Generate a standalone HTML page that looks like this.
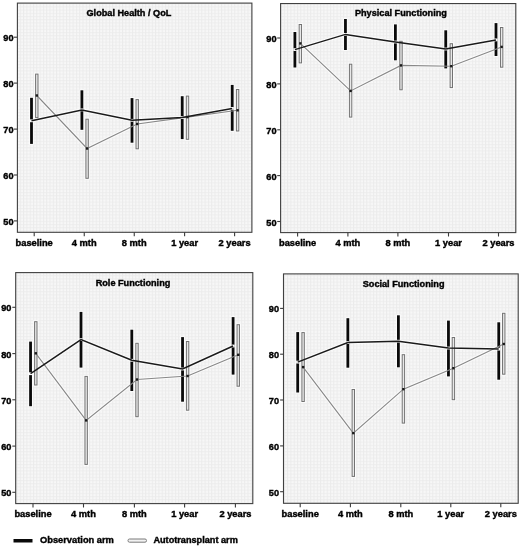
<!DOCTYPE html><html><head><meta charset="utf-8"><style>html,body{margin:0;padding:0;background:#fff;width:520px;height:546px;overflow:hidden}svg{display:block;will-change:transform}text{font-family:"Liberation Sans", sans-serif;font-weight:bold;fill:#000;stroke:#000;stroke-width:0.4px}</style></head><body>
<svg width="520" height="546" viewBox="0 0 520 546">
<defs><pattern id="g" width="3.3" height="3.2" patternUnits="userSpaceOnUse"><rect width="3.3" height="3.2" fill="#f7f7f7"/><path d="M0 0.5H3.3" stroke="#eeeeee" stroke-width="1"/><path d="M0.5 0V3.2" stroke="#ebebeb" stroke-width="1"/></pattern></defs>
<rect x="17.4" y="3.1" width="234.5" height="229.20000000000002" fill="url(#g)"/>
<line x1="13.999999999999998" y1="37.2" x2="17.4" y2="37.2" stroke="#3a3a3a" stroke-width="1.1"/>
<text transform="translate(13.50,41.20) scale(0.96,1)" font-size="9.6" text-anchor="end">90</text>
<line x1="13.999999999999998" y1="83.1" x2="17.4" y2="83.1" stroke="#3a3a3a" stroke-width="1.1"/>
<text transform="translate(13.50,87.12) scale(0.96,1)" font-size="9.6" text-anchor="end">80</text>
<line x1="13.999999999999998" y1="129.1" x2="17.4" y2="129.1" stroke="#3a3a3a" stroke-width="1.1"/>
<text transform="translate(13.50,133.05) scale(0.96,1)" font-size="9.6" text-anchor="end">70</text>
<line x1="13.999999999999998" y1="175.0" x2="17.4" y2="175.0" stroke="#3a3a3a" stroke-width="1.1"/>
<text transform="translate(13.50,178.97) scale(0.96,1)" font-size="9.6" text-anchor="end">60</text>
<line x1="13.999999999999998" y1="220.9" x2="17.4" y2="220.9" stroke="#3a3a3a" stroke-width="1.1"/>
<text transform="translate(13.50,224.90) scale(0.96,1)" font-size="9.6" text-anchor="end">50</text>
<line x1="34.2" y1="232.3" x2="34.2" y2="236.20000000000002" stroke="#3a3a3a" stroke-width="1.1"/>
<text transform="translate(34.2,246.1) scale(1.035,1)" font-size="9.0" text-anchor="middle">baseline</text>
<line x1="84.25" y1="232.3" x2="84.25" y2="236.20000000000002" stroke="#3a3a3a" stroke-width="1.1"/>
<text transform="translate(84.25,246.1) scale(1.035,1)" font-size="9.0" text-anchor="middle">4 mth</text>
<line x1="134.25" y1="232.3" x2="134.25" y2="236.20000000000002" stroke="#3a3a3a" stroke-width="1.1"/>
<text transform="translate(134.25,246.1) scale(1.035,1)" font-size="9.0" text-anchor="middle">8 mth</text>
<line x1="184.6" y1="232.3" x2="184.6" y2="236.20000000000002" stroke="#3a3a3a" stroke-width="1.1"/>
<text transform="translate(184.6,246.1) scale(1.035,1)" font-size="9.0" text-anchor="middle">1 year</text>
<line x1="234.6" y1="232.3" x2="234.6" y2="236.20000000000002" stroke="#3a3a3a" stroke-width="1.1"/>
<text transform="translate(234.6,246.1) scale(1.035,1)" font-size="9.0" text-anchor="middle">2 years</text>
<text x="128.9" y="16.2" font-size="9.15" text-anchor="middle">Global Health / QoL</text>
<polyline points="36.80,95.50 87.10,148.50 137.20,124.00 187.50,117.10 237.60,110.30" fill="none" stroke="#fff" stroke-opacity="0.7" stroke-width="3.2"/>
<polyline points="31.50,120.80 81.90,109.90 132.00,120.30 182.20,117.60 232.20,108.40" fill="none" stroke="#fff" stroke-opacity="0.7" stroke-width="3.6"/>
<rect x="34.20" y="72.70" width="5.20" height="46.30" fill="#fff" opacity="0.8"/>
<rect x="84.50" y="117.80" width="5.20" height="61.90" fill="#fff" opacity="0.8"/>
<rect x="134.60" y="98.20" width="5.20" height="52.00" fill="#fff" opacity="0.8"/>
<rect x="184.90" y="94.70" width="5.20" height="46.00" fill="#fff" opacity="0.8"/>
<rect x="235.00" y="88.10" width="5.20" height="44.30" fill="#fff" opacity="0.8"/>
<rect x="29.20" y="96.90" width="4.60" height="47.90" fill="#fff" opacity="0.8"/>
<rect x="79.60" y="89.40" width="4.60" height="41.30" fill="#fff" opacity="0.8"/>
<rect x="129.70" y="97.20" width="4.60" height="46.40" fill="#fff" opacity="0.8"/>
<rect x="179.90" y="95.30" width="4.60" height="44.70" fill="#fff" opacity="0.8"/>
<rect x="229.90" y="84.00" width="4.60" height="47.70" fill="#fff" opacity="0.8"/>
<rect x="35.60" y="74.10" width="2.40" height="43.50" fill="#e8e8e8" stroke="#727272" stroke-width="1"/>
<rect x="85.90" y="119.20" width="2.40" height="59.10" fill="#e8e8e8" stroke="#727272" stroke-width="1"/>
<rect x="136.00" y="99.60" width="2.40" height="49.20" fill="#e8e8e8" stroke="#727272" stroke-width="1"/>
<rect x="186.30" y="96.10" width="2.40" height="43.20" fill="#e8e8e8" stroke="#727272" stroke-width="1"/>
<rect x="236.40" y="89.50" width="2.40" height="41.50" fill="#e8e8e8" stroke="#727272" stroke-width="1"/>
<rect x="30.10" y="97.80" width="2.8" height="46.10" fill="#0a0a0a"/>
<rect x="80.50" y="90.30" width="2.8" height="39.50" fill="#0a0a0a"/>
<rect x="130.60" y="98.10" width="2.8" height="44.60" fill="#0a0a0a"/>
<rect x="180.80" y="96.20" width="2.8" height="42.90" fill="#0a0a0a"/>
<rect x="230.80" y="84.90" width="2.8" height="45.90" fill="#0a0a0a"/>
<polyline points="36.80,95.50 87.10,148.50 137.20,124.00 187.50,117.10 237.60,110.30" fill="none" stroke="#888" stroke-width="1.1"/>
<rect x="29.90" y="119.40" width="3.2" height="2.8" fill="#fafafa"/>
<rect x="80.30" y="108.50" width="3.2" height="2.8" fill="#fafafa"/>
<rect x="130.40" y="118.90" width="3.2" height="2.8" fill="#fafafa"/>
<rect x="180.60" y="116.20" width="3.2" height="2.8" fill="#fafafa"/>
<rect x="230.60" y="107.00" width="3.2" height="2.8" fill="#fafafa"/>
<polyline points="31.50,120.80 81.90,109.90 132.00,120.30 182.20,117.60 232.20,108.40" fill="none" stroke="#1a1a1a" stroke-width="1.5"/>
<rect x="35.60" y="94.30" width="2.4" height="2.4" fill="#1a1a1a"/>
<rect x="85.90" y="147.30" width="2.4" height="2.4" fill="#1a1a1a"/>
<rect x="136.00" y="122.80" width="2.4" height="2.4" fill="#1a1a1a"/>
<rect x="186.30" y="115.90" width="2.4" height="2.4" fill="#1a1a1a"/>
<rect x="236.40" y="109.10" width="2.4" height="2.4" fill="#1a1a1a"/>
<rect x="17.4" y="3.1" width="234.5" height="229.20000000000002" fill="none" stroke="#404040" stroke-width="1.1"/>
<rect x="280.6" y="3.56" width="235.19999999999993" height="229.04" fill="url(#g)"/>
<line x1="277.20000000000005" y1="38.0" x2="280.6" y2="38.0" stroke="#3a3a3a" stroke-width="1.1"/>
<text transform="translate(276.50,42.00) scale(0.96,1)" font-size="9.6" text-anchor="end">90</text>
<line x1="277.20000000000005" y1="83.9" x2="280.6" y2="83.9" stroke="#3a3a3a" stroke-width="1.1"/>
<text transform="translate(276.50,87.88) scale(0.96,1)" font-size="9.6" text-anchor="end">80</text>
<line x1="277.20000000000005" y1="129.8" x2="280.6" y2="129.8" stroke="#3a3a3a" stroke-width="1.1"/>
<text transform="translate(276.50,133.75) scale(0.96,1)" font-size="9.6" text-anchor="end">70</text>
<line x1="277.20000000000005" y1="175.6" x2="280.6" y2="175.6" stroke="#3a3a3a" stroke-width="1.1"/>
<text transform="translate(276.50,179.62) scale(0.96,1)" font-size="9.6" text-anchor="end">60</text>
<line x1="277.20000000000005" y1="221.5" x2="280.6" y2="221.5" stroke="#3a3a3a" stroke-width="1.1"/>
<text transform="translate(276.50,225.50) scale(0.96,1)" font-size="9.6" text-anchor="end">50</text>
<line x1="297.6" y1="232.6" x2="297.6" y2="236.5" stroke="#3a3a3a" stroke-width="1.1"/>
<text transform="translate(297.6,246.4) scale(1.035,1)" font-size="9.0" text-anchor="middle">baseline</text>
<line x1="347.9" y1="232.6" x2="347.9" y2="236.5" stroke="#3a3a3a" stroke-width="1.1"/>
<text transform="translate(347.9,246.4) scale(1.035,1)" font-size="9.0" text-anchor="middle">4 mth</text>
<line x1="397.9" y1="232.6" x2="397.9" y2="236.5" stroke="#3a3a3a" stroke-width="1.1"/>
<text transform="translate(397.9,246.4) scale(1.035,1)" font-size="9.0" text-anchor="middle">8 mth</text>
<line x1="448.5" y1="232.6" x2="448.5" y2="236.5" stroke="#3a3a3a" stroke-width="1.1"/>
<text transform="translate(448.5,246.4) scale(1.035,1)" font-size="9.0" text-anchor="middle">1 year</text>
<line x1="498.5" y1="232.6" x2="498.5" y2="236.5" stroke="#3a3a3a" stroke-width="1.1"/>
<text transform="translate(498.5,246.4) scale(1.035,1)" font-size="9.0" text-anchor="middle">2 years</text>
<text x="400.9" y="16.0" font-size="9.15" text-anchor="middle">Physical Functioning</text>
<polyline points="300.35,43.40 350.60,90.90 401.00,65.40 451.30,66.20 501.65,46.90" fill="none" stroke="#fff" stroke-opacity="0.7" stroke-width="3.2"/>
<polyline points="294.90,49.60 345.45,34.40 395.40,42.00 445.75,49.00 496.00,39.90" fill="none" stroke="#fff" stroke-opacity="0.7" stroke-width="3.6"/>
<rect x="297.75" y="23.10" width="5.20" height="41.20" fill="#fff" opacity="0.8"/>
<rect x="348.00" y="62.80" width="5.20" height="55.70" fill="#fff" opacity="0.8"/>
<rect x="398.40" y="39.90" width="5.20" height="51.30" fill="#fff" opacity="0.8"/>
<rect x="448.70" y="42.30" width="5.20" height="46.70" fill="#fff" opacity="0.8"/>
<rect x="499.05" y="26.10" width="5.20" height="42.50" fill="#fff" opacity="0.8"/>
<rect x="292.60" y="31.10" width="4.60" height="37.30" fill="#fff" opacity="0.8"/>
<rect x="343.15" y="18.10" width="4.60" height="32.80" fill="#fff" opacity="0.8"/>
<rect x="393.10" y="23.50" width="4.60" height="37.70" fill="#fff" opacity="0.8"/>
<rect x="443.45" y="29.40" width="4.60" height="39.90" fill="#fff" opacity="0.8"/>
<rect x="493.70" y="22.20" width="4.60" height="34.70" fill="#fff" opacity="0.8"/>
<rect x="299.15" y="24.50" width="2.40" height="38.40" fill="#e8e8e8" stroke="#727272" stroke-width="1"/>
<rect x="349.40" y="64.20" width="2.40" height="52.90" fill="#e8e8e8" stroke="#727272" stroke-width="1"/>
<rect x="399.80" y="41.30" width="2.40" height="48.50" fill="#e8e8e8" stroke="#727272" stroke-width="1"/>
<rect x="450.10" y="43.70" width="2.40" height="43.90" fill="#e8e8e8" stroke="#727272" stroke-width="1"/>
<rect x="500.45" y="27.50" width="2.40" height="39.70" fill="#e8e8e8" stroke="#727272" stroke-width="1"/>
<rect x="293.50" y="32.00" width="2.8" height="35.50" fill="#0a0a0a"/>
<rect x="344.05" y="19.00" width="2.8" height="31.00" fill="#0a0a0a"/>
<rect x="394.00" y="24.40" width="2.8" height="35.90" fill="#0a0a0a"/>
<rect x="444.35" y="30.30" width="2.8" height="38.10" fill="#0a0a0a"/>
<rect x="494.60" y="23.10" width="2.8" height="32.90" fill="#0a0a0a"/>
<polyline points="300.35,43.40 350.60,90.90 401.00,65.40 451.30,66.20 501.65,46.90" fill="none" stroke="#888" stroke-width="1.1"/>
<rect x="293.30" y="48.20" width="3.2" height="2.8" fill="#fafafa"/>
<rect x="343.85" y="33.00" width="3.2" height="2.8" fill="#fafafa"/>
<rect x="393.80" y="40.60" width="3.2" height="2.8" fill="#fafafa"/>
<rect x="444.15" y="47.60" width="3.2" height="2.8" fill="#fafafa"/>
<rect x="494.40" y="38.50" width="3.2" height="2.8" fill="#fafafa"/>
<polyline points="294.90,49.60 345.45,34.40 395.40,42.00 445.75,49.00 496.00,39.90" fill="none" stroke="#1a1a1a" stroke-width="1.5"/>
<rect x="299.15" y="42.20" width="2.4" height="2.4" fill="#1a1a1a"/>
<rect x="349.40" y="89.70" width="2.4" height="2.4" fill="#1a1a1a"/>
<rect x="399.80" y="64.20" width="2.4" height="2.4" fill="#1a1a1a"/>
<rect x="450.10" y="65.00" width="2.4" height="2.4" fill="#1a1a1a"/>
<rect x="500.45" y="45.70" width="2.4" height="2.4" fill="#1a1a1a"/>
<rect x="280.6" y="3.56" width="235.19999999999993" height="229.04" fill="none" stroke="#404040" stroke-width="1.1"/>
<rect x="15.7" y="272.6" width="237.10000000000002" height="231.0" fill="url(#g)"/>
<line x1="12.299999999999999" y1="307.3" x2="15.7" y2="307.3" stroke="#3a3a3a" stroke-width="1.1"/>
<text transform="translate(11.40,311.30) scale(0.96,1)" font-size="9.6" text-anchor="end">90</text>
<line x1="12.299999999999999" y1="353.6" x2="15.7" y2="353.6" stroke="#3a3a3a" stroke-width="1.1"/>
<text transform="translate(11.40,357.55) scale(0.96,1)" font-size="9.6" text-anchor="end">80</text>
<line x1="12.299999999999999" y1="399.8" x2="15.7" y2="399.8" stroke="#3a3a3a" stroke-width="1.1"/>
<text transform="translate(11.40,403.80) scale(0.96,1)" font-size="9.6" text-anchor="end">70</text>
<line x1="12.299999999999999" y1="446.1" x2="15.7" y2="446.1" stroke="#3a3a3a" stroke-width="1.1"/>
<text transform="translate(11.40,450.05) scale(0.96,1)" font-size="9.6" text-anchor="end">60</text>
<line x1="12.299999999999999" y1="492.3" x2="15.7" y2="492.3" stroke="#3a3a3a" stroke-width="1.1"/>
<text transform="translate(11.40,496.30) scale(0.96,1)" font-size="9.6" text-anchor="end">50</text>
<line x1="33.0" y1="503.6" x2="33.0" y2="507.5" stroke="#3a3a3a" stroke-width="1.1"/>
<text transform="translate(33.0,517.4) scale(1.035,1)" font-size="9.0" text-anchor="middle">baseline</text>
<line x1="83.5" y1="503.6" x2="83.5" y2="507.5" stroke="#3a3a3a" stroke-width="1.1"/>
<text transform="translate(83.5,517.4) scale(1.035,1)" font-size="9.0" text-anchor="middle">4 mth</text>
<line x1="134.4" y1="503.6" x2="134.4" y2="507.5" stroke="#3a3a3a" stroke-width="1.1"/>
<text transform="translate(134.4,517.4) scale(1.035,1)" font-size="9.0" text-anchor="middle">8 mth</text>
<line x1="184.6" y1="503.6" x2="184.6" y2="507.5" stroke="#3a3a3a" stroke-width="1.1"/>
<text transform="translate(184.6,517.4) scale(1.035,1)" font-size="9.0" text-anchor="middle">1 year</text>
<line x1="235.4" y1="503.6" x2="235.4" y2="507.5" stroke="#3a3a3a" stroke-width="1.1"/>
<text transform="translate(235.4,517.4) scale(1.035,1)" font-size="9.0" text-anchor="middle">2 years</text>
<text x="133.0" y="286.3" font-size="9.15" text-anchor="middle">Role Functioning</text>
<polyline points="35.80,353.30 86.15,420.40 137.00,379.50 187.60,376.00 238.25,354.80" fill="none" stroke="#fff" stroke-opacity="0.7" stroke-width="3.2"/>
<polyline points="30.55,373.70 81.00,339.60 131.80,360.30 182.55,369.00 233.10,346.00" fill="none" stroke="#fff" stroke-opacity="0.7" stroke-width="3.6"/>
<rect x="33.20" y="320.30" width="5.20" height="66.10" fill="#fff" opacity="0.8"/>
<rect x="83.55" y="375.00" width="5.20" height="90.80" fill="#fff" opacity="0.8"/>
<rect x="134.40" y="341.90" width="5.20" height="76.20" fill="#fff" opacity="0.8"/>
<rect x="185.00" y="340.10" width="5.20" height="71.50" fill="#fff" opacity="0.8"/>
<rect x="235.65" y="323.30" width="5.20" height="64.30" fill="#fff" opacity="0.8"/>
<rect x="28.25" y="340.70" width="4.60" height="66.40" fill="#fff" opacity="0.8"/>
<rect x="78.70" y="311.00" width="4.60" height="57.50" fill="#fff" opacity="0.8"/>
<rect x="129.50" y="328.80" width="4.60" height="63.10" fill="#fff" opacity="0.8"/>
<rect x="180.25" y="336.20" width="4.60" height="66.40" fill="#fff" opacity="0.8"/>
<rect x="230.80" y="316.20" width="4.60" height="59.30" fill="#fff" opacity="0.8"/>
<rect x="34.60" y="321.70" width="2.40" height="63.30" fill="#e8e8e8" stroke="#727272" stroke-width="1"/>
<rect x="84.95" y="376.40" width="2.40" height="88.00" fill="#e8e8e8" stroke="#727272" stroke-width="1"/>
<rect x="135.80" y="343.30" width="2.40" height="73.40" fill="#e8e8e8" stroke="#727272" stroke-width="1"/>
<rect x="186.40" y="341.50" width="2.40" height="68.70" fill="#e8e8e8" stroke="#727272" stroke-width="1"/>
<rect x="237.05" y="324.70" width="2.40" height="61.50" fill="#e8e8e8" stroke="#727272" stroke-width="1"/>
<rect x="29.15" y="341.60" width="2.8" height="64.60" fill="#0a0a0a"/>
<rect x="79.60" y="311.90" width="2.8" height="55.70" fill="#0a0a0a"/>
<rect x="130.40" y="329.70" width="2.8" height="61.30" fill="#0a0a0a"/>
<rect x="181.15" y="337.10" width="2.8" height="64.60" fill="#0a0a0a"/>
<rect x="231.70" y="317.10" width="2.8" height="57.50" fill="#0a0a0a"/>
<polyline points="35.80,353.30 86.15,420.40 137.00,379.50 187.60,376.00 238.25,354.80" fill="none" stroke="#888" stroke-width="1.1"/>
<rect x="28.95" y="372.30" width="3.2" height="2.8" fill="#fafafa"/>
<rect x="79.40" y="338.20" width="3.2" height="2.8" fill="#fafafa"/>
<rect x="130.20" y="358.90" width="3.2" height="2.8" fill="#fafafa"/>
<rect x="180.95" y="367.60" width="3.2" height="2.8" fill="#fafafa"/>
<rect x="231.50" y="344.60" width="3.2" height="2.8" fill="#fafafa"/>
<polyline points="30.55,373.70 81.00,339.60 131.80,360.30 182.55,369.00 233.10,346.00" fill="none" stroke="#1a1a1a" stroke-width="1.5"/>
<rect x="34.60" y="352.10" width="2.4" height="2.4" fill="#1a1a1a"/>
<rect x="84.95" y="419.20" width="2.4" height="2.4" fill="#1a1a1a"/>
<rect x="135.80" y="378.30" width="2.4" height="2.4" fill="#1a1a1a"/>
<rect x="186.40" y="374.80" width="2.4" height="2.4" fill="#1a1a1a"/>
<rect x="237.05" y="353.60" width="2.4" height="2.4" fill="#1a1a1a"/>
<rect x="15.7" y="272.6" width="237.10000000000002" height="231.0" fill="none" stroke="#404040" stroke-width="1.1"/>
<rect x="283.5" y="273.9" width="234.70000000000005" height="229.40000000000003" fill="url(#g)"/>
<line x1="280.1" y1="308.4" x2="283.5" y2="308.4" stroke="#3a3a3a" stroke-width="1.1"/>
<text transform="translate(279.10,312.40) scale(0.96,1)" font-size="9.6" text-anchor="end">90</text>
<line x1="280.1" y1="354.2" x2="283.5" y2="354.2" stroke="#3a3a3a" stroke-width="1.1"/>
<text transform="translate(279.10,358.22) scale(0.96,1)" font-size="9.6" text-anchor="end">80</text>
<line x1="280.1" y1="400.0" x2="283.5" y2="400.0" stroke="#3a3a3a" stroke-width="1.1"/>
<text transform="translate(279.10,404.05) scale(0.96,1)" font-size="9.6" text-anchor="end">70</text>
<line x1="280.1" y1="445.9" x2="283.5" y2="445.9" stroke="#3a3a3a" stroke-width="1.1"/>
<text transform="translate(279.10,449.88) scale(0.96,1)" font-size="9.6" text-anchor="end">60</text>
<line x1="280.1" y1="491.7" x2="283.5" y2="491.7" stroke="#3a3a3a" stroke-width="1.1"/>
<text transform="translate(279.10,495.70) scale(0.96,1)" font-size="9.6" text-anchor="end">50</text>
<line x1="300.2" y1="503.3" x2="300.2" y2="507.2" stroke="#3a3a3a" stroke-width="1.1"/>
<text transform="translate(300.2,517.1) scale(1.035,1)" font-size="9.0" text-anchor="middle">baseline</text>
<line x1="350.4" y1="503.3" x2="350.4" y2="507.2" stroke="#3a3a3a" stroke-width="1.1"/>
<text transform="translate(350.4,517.1) scale(1.035,1)" font-size="9.0" text-anchor="middle">4 mth</text>
<line x1="400.8" y1="503.3" x2="400.8" y2="507.2" stroke="#3a3a3a" stroke-width="1.1"/>
<text transform="translate(400.8,517.1) scale(1.035,1)" font-size="9.0" text-anchor="middle">8 mth</text>
<line x1="450.8" y1="503.3" x2="450.8" y2="507.2" stroke="#3a3a3a" stroke-width="1.1"/>
<text transform="translate(450.8,517.1) scale(1.035,1)" font-size="9.0" text-anchor="middle">1 year</text>
<line x1="500.8" y1="503.3" x2="500.8" y2="507.2" stroke="#3a3a3a" stroke-width="1.1"/>
<text transform="translate(500.8,517.1) scale(1.035,1)" font-size="9.0" text-anchor="middle">2 years</text>
<text x="403.6" y="287.0" font-size="9.15" text-anchor="middle">Social Functioning</text>
<polyline points="303.10,367.10 353.30,433.10 403.40,389.20 453.40,368.20 503.75,344.00" fill="none" stroke="#fff" stroke-opacity="0.7" stroke-width="3.2"/>
<polyline points="297.70,362.10 347.85,342.50 398.40,341.20 448.45,348.00 498.75,349.10" fill="none" stroke="#fff" stroke-opacity="0.7" stroke-width="3.6"/>
<rect x="300.50" y="331.20" width="5.20" height="71.70" fill="#fff" opacity="0.8"/>
<rect x="350.70" y="388.10" width="5.20" height="89.70" fill="#fff" opacity="0.8"/>
<rect x="400.80" y="353.30" width="5.20" height="71.20" fill="#fff" opacity="0.8"/>
<rect x="450.80" y="336.10" width="5.20" height="65.00" fill="#fff" opacity="0.8"/>
<rect x="501.15" y="311.90" width="5.20" height="63.70" fill="#fff" opacity="0.8"/>
<rect x="295.40" y="331.20" width="4.60" height="62.20" fill="#fff" opacity="0.8"/>
<rect x="345.55" y="317.30" width="4.60" height="51.30" fill="#fff" opacity="0.8"/>
<rect x="396.10" y="314.40" width="4.60" height="53.80" fill="#fff" opacity="0.8"/>
<rect x="446.15" y="319.70" width="4.60" height="57.60" fill="#fff" opacity="0.8"/>
<rect x="496.45" y="321.40" width="4.60" height="59.20" fill="#fff" opacity="0.8"/>
<rect x="301.90" y="332.60" width="2.40" height="68.90" fill="#e8e8e8" stroke="#727272" stroke-width="1"/>
<rect x="352.10" y="389.50" width="2.40" height="86.90" fill="#e8e8e8" stroke="#727272" stroke-width="1"/>
<rect x="402.20" y="354.70" width="2.40" height="68.40" fill="#e8e8e8" stroke="#727272" stroke-width="1"/>
<rect x="452.20" y="337.50" width="2.40" height="62.20" fill="#e8e8e8" stroke="#727272" stroke-width="1"/>
<rect x="502.55" y="313.30" width="2.40" height="60.90" fill="#e8e8e8" stroke="#727272" stroke-width="1"/>
<rect x="296.30" y="332.10" width="2.8" height="60.40" fill="#0a0a0a"/>
<rect x="346.45" y="318.20" width="2.8" height="49.50" fill="#0a0a0a"/>
<rect x="397.00" y="315.30" width="2.8" height="52.00" fill="#0a0a0a"/>
<rect x="447.05" y="320.60" width="2.8" height="55.80" fill="#0a0a0a"/>
<rect x="497.35" y="322.30" width="2.8" height="57.40" fill="#0a0a0a"/>
<polyline points="303.10,367.10 353.30,433.10 403.40,389.20 453.40,368.20 503.75,344.00" fill="none" stroke="#888" stroke-width="1.1"/>
<rect x="296.10" y="360.70" width="3.2" height="2.8" fill="#fafafa"/>
<rect x="346.25" y="341.10" width="3.2" height="2.8" fill="#fafafa"/>
<rect x="396.80" y="339.80" width="3.2" height="2.8" fill="#fafafa"/>
<rect x="446.85" y="346.60" width="3.2" height="2.8" fill="#fafafa"/>
<rect x="497.15" y="347.70" width="3.2" height="2.8" fill="#fafafa"/>
<polyline points="297.70,362.10 347.85,342.50 398.40,341.20 448.45,348.00 498.75,349.10" fill="none" stroke="#1a1a1a" stroke-width="1.5"/>
<rect x="301.90" y="365.90" width="2.4" height="2.4" fill="#1a1a1a"/>
<rect x="352.10" y="431.90" width="2.4" height="2.4" fill="#1a1a1a"/>
<rect x="402.20" y="388.00" width="2.4" height="2.4" fill="#1a1a1a"/>
<rect x="452.20" y="367.00" width="2.4" height="2.4" fill="#1a1a1a"/>
<rect x="502.55" y="342.80" width="2.4" height="2.4" fill="#1a1a1a"/>
<rect x="283.5" y="273.9" width="234.70000000000005" height="229.40000000000003" fill="none" stroke="#404040" stroke-width="1.1"/>
<rect x="13.5" y="539" width="19" height="3.5" fill="#0a0a0a"/>
<text x="40" y="542.6" font-size="9.3">Observation arm</text>
<rect x="128" y="539" width="18.5" height="3.2" rx="1.5" fill="#f2f2f2" stroke="#7a7a7a" stroke-width="1"/>
<text transform="translate(153.4,542.6) scale(0.985,1)" font-size="9.3">Autotransplant arm</text>
</svg></body></html>
